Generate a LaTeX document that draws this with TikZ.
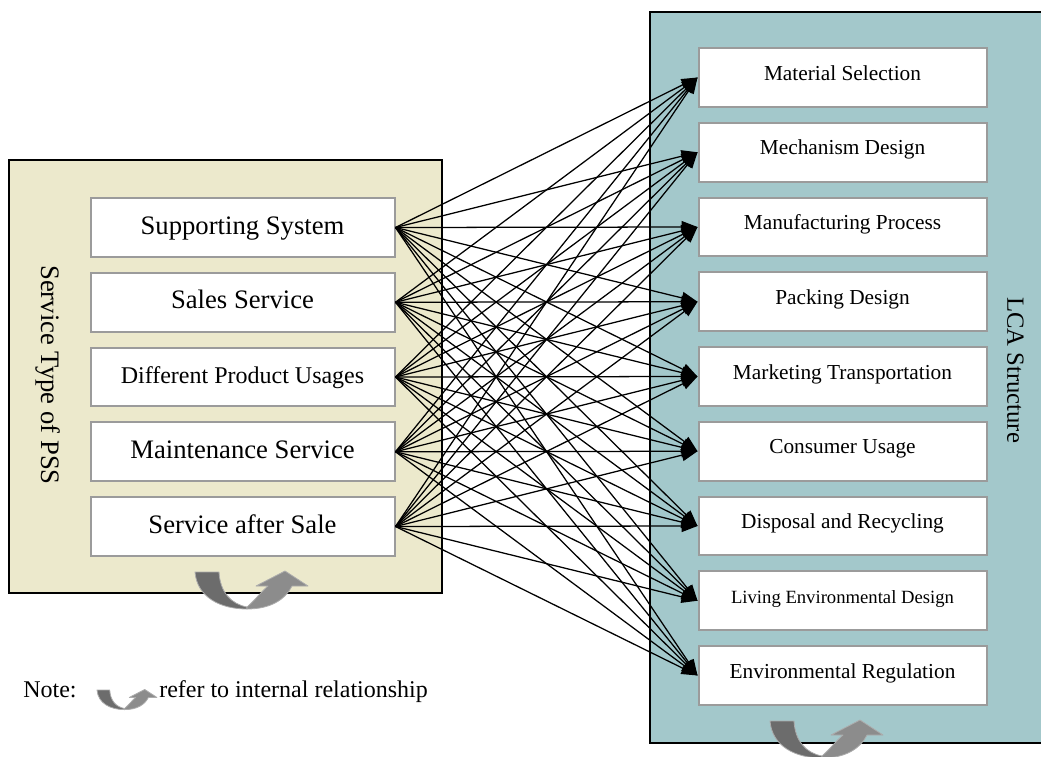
\documentclass[tikz,border=0pt]{standalone}
\usepackage{fontspec}
\setmainfont{Liberation Serif}
\usetikzlibrary{arrows.meta}

\definecolor{pssbg}{RGB}{236,233,204}
\definecolor{lcabg}{RGB}{163,200,203}
\definecolor{boxline}{RGB}{155,155,155}
\definecolor{turndark}{RGB}{108,108,108}
\definecolor{turnlight}{RGB}{140,140,140}
\definecolor{turnline}{RGB}{172,172,172}

\begin{document}
\begin{tikzpicture}[x=0.75pt, y=-0.75pt]
            \tikzstyle{panel} = [draw=black, line width=1.9pt]
            \tikzstyle{pss} = [rectangle, draw=boxline, line width=1.5pt, fill=white, minimum width=228pt, minimum height=44pt, inner sep=0pt, text height=14pt, text depth=4pt, font=\fontsize{20}{24}\selectfont]
            \tikzstyle{lca} = [rectangle, draw=boxline, line width=1.5pt, fill=white, minimum width=216pt, minimum height=44pt, inner sep=0pt, text height=11pt, text depth=7pt, font=\fontsize{16}{19}\selectfont]
            \tikzstyle{link} = [-{Triangle[length=12pt,width=9pt]}, line width=0.95pt]
            \tikzstyle{title} = [rotate=-90, inner sep=0pt, font=\fontsize{20}{24}\selectfont]
            \tikzstyle{note} = [anchor=base west, inner sep=0pt, font=\fontsize{18}{22}\selectfont]
            \tikzstyle{turn} = [draw=turnline, line width=0.6pt, line join=round]

            \useasboundingbox (0,0) rectangle (1041,756);

            % the two frames
            \draw[panel, fill=pssbg] (9,160) rectangle (442,593);
            \draw[panel, fill=lcabg] (650,12) rectangle (1060,743);

            \node[title] (psstitle) at (48.5,375) {Service Type of PSS};
            \node[title, font=\fontsize{18.5}{22}\selectfont] (lcatitle) at (1015.5,370) {LCA Structure};

            % service types
            \node[pss] (supp) at (242.5, 227.5) {Supporting System};
            \node[pss] (sales) at (242.5, 302.25) {Sales Service};
            \node[pss, font=\fontsize{18}{22}\selectfont] (usage) at (242.5, 377) {Different Product Usages};
            \node[pss] (maint) at (242.5, 451.75) {Maintenance Service};
            \node[pss] (after) at (242.5, 526.5) {Service after Sale};

            % life cycle stages
            \node[lca] (material) at (842.5, 77.5) {Material Selection};
            \node[lca] (mechanism) at (842.5, 152.25) {Mechanism Design};
            \node[lca] (manuf) at (842.5, 227) {Manufacturing Process};
            \node[lca] (packing) at (842.5, 301.75) {Packing Design};
            \node[lca] (market) at (842.5, 376.5) {Marketing Transportation};
            \node[lca] (consumer) at (842.5, 451.25) {Consumer Usage};
            \node[lca] (disposal) at (842.5, 526) {Disposal and Recycling};
            \node[lca, font=\fontsize{14}{17}\selectfont] (living) at (842.5, 600.75) {Living Environmental Design};
            \node[lca] (regul) at (842.5, 675.5) {Environmental Regulation};

            \foreach \s in {supp, sales, usage, maint, after}
              \foreach \t in {material, mechanism, manuf, packing, market, consumer, disposal, living, regul}
                \draw [link] (\s.east) -- (\t.west);

            % internal relationship arrows
            \foreach \sx/\sy/\sc in {195/572/1, 770/721/1, 97/690/0.53} {
              \begin{scope}[shift={(\sx,\sy)}, scale=\sc]
                \filldraw[turn, fill=turndark] (0,0) -- (24,0) .. controls (25,20) and (36,32) .. (52,35) -- (52,37) .. controls (25,37) and (2,25) .. (0,0) -- cycle;
                \filldraw[turn, fill=turnlight] (52,35) .. controls (60,28) and (66,20) .. (73,14) -- (61,14) -- (90,-1) -- (113,14) -- (97,14) .. controls (90,28) and (75,37) .. (52,37) -- cycle;
              \end{scope}
            }

            \node[note] (notelabel) at (23,697.5) {Note:};
            \node[note] (notetext) at (159,697.5) {refer to internal relationship};
          \end{tikzpicture}
\end{document}
